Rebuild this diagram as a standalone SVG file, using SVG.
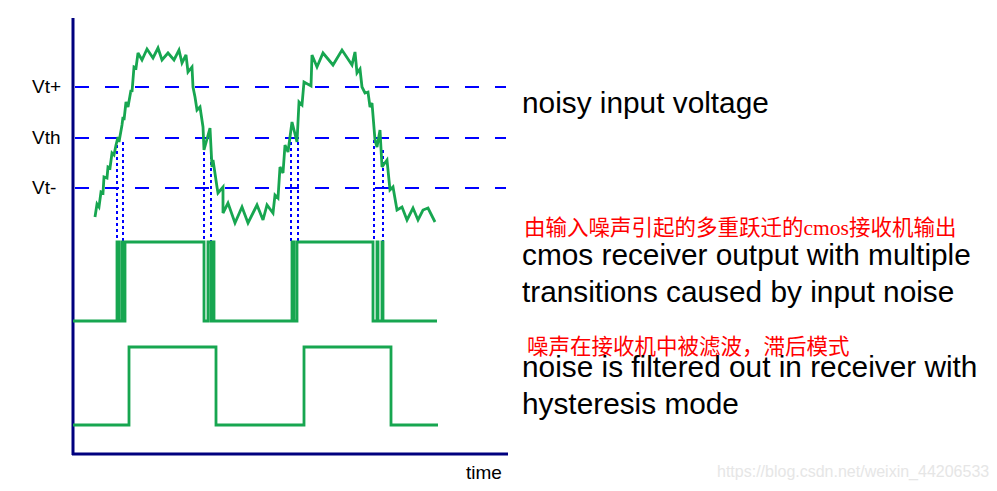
<svg xmlns="http://www.w3.org/2000/svg" width="997" height="491" viewBox="0 0 997 491">
<style>
.axis{stroke:#00007f;stroke-width:3;fill:none}
.dash{stroke:#0000ff;stroke-width:2;stroke-dasharray:14 16;fill:none}
.dot{stroke:#0000ff;stroke-width:2;stroke-dasharray:3 3;fill:none}
.wave{stroke:#17a650;stroke-width:2.8;fill:none;stroke-linejoin:miter;stroke-miterlimit:3}
.lbl{font-family:"Liberation Sans",Arial,sans-serif;font-size:19px;fill:#000}
.big{font-family:"Liberation Sans",Arial,sans-serif;font-size:29.8px;fill:#000}
.cn{font-family:"Liberation Serif","Noto Sans CJK SC",serif;font-size:21.5px;fill:#ff0000}
.wm{font-family:"Liberation Sans",Arial,sans-serif;font-size:16px;fill:#e6e6e6}
</style>
<rect width="997" height="491" fill="#ffffff"/>
<g id="axes">
<line class="axis" x1="73" y1="18" x2="73" y2="455"/>
<line class="axis" x1="72" y1="454" x2="508" y2="454"/>
<text class="lbl" x="466" y="479">time</text>
</g>
<g id="thresholds">
<line class="dash" x1="75" y1="87" x2="506" y2="87"/>
<line class="dash" x1="75" y1="138" x2="506" y2="138"/>
<line class="dash" x1="75" y1="188" x2="506" y2="188"/>
<text class="lbl" x="32" y="93">Vt+</text>
<text class="lbl" x="32" y="144">Vth</text>
<text class="lbl" x="32" y="194">Vt-</text>
</g>
<g id="connectors">
<line class="dot" x1="117" y1="145" x2="117" y2="242"/>
<line class="dot" x1="123" y1="142" x2="123" y2="242"/>
<line class="dot" x1="204" y1="140" x2="204" y2="242"/>
<line class="dot" x1="211" y1="150" x2="211" y2="242"/>
<line class="dot" x1="291" y1="142" x2="291" y2="242"/>
<line class="dot" x1="298" y1="142" x2="298" y2="242"/>
<line class="dot" x1="374" y1="140" x2="374" y2="242"/>
<line class="dot" x1="383" y1="150" x2="383" y2="242"/>
</g>
<g id="noisy-input">
<polyline class="wave" points="95,217 97,204 99,207 101,192 103,193 104,177 107,178 108,167 110,168 112,153 114,155 116,145 118,137 119,142 122,125 123,117 124,120 126,102 128,107 131,90 132,92 134,67 136,68 138,53 142,60 147,49 153,58 158,48 162,60 168,53 174,60 179,50 182,63 186,55 188,72 192,67 193,87 195,97 197,110 200,107 203,127 204,150 210,128 212,167 213,160 217,187 218,193 223,187 223,213 228,203 235,223 242,207 248,223 257,205 263,220 267,205 273,213 275,195 278,198 280,167 283,173 285,145 288,152 292,122 297,142 299,102 302,105 304,82 311,86 312,55 317,67 323,53 333,65 342,50 352,65 355,52 357,73 360,69 362,87 365,93 368,92 370,107 372,103 375,140 377,147 380,130 382,167 387,160 390,190 393,187 397,210 402,207 407,220 413,208 418,220 423,210 428,208 435,222"/>
<text class="big" x="522" y="113">noisy input voltage</text>
</g>
<g id="cmos-output">
<path class="wave" d="M73,321 H117 V242 H119 V321 H122 V242 H124 V321 H125 V242 H204 V321 H208 V242 H211 V321 H213 V242 H214 V321 H292 V242 H294 V321 H297 V242 H373 V321 H377 V242 H378 V321 H382 V242 H383 V321 H437"/>
<text class="cn" x="524" y="235">由输入噪声引起的多重跃迁的cmos接收机输出</text>
<text class="big" x="522" y="265">cmos receiver output with multiple</text>
<text class="big" x="522" y="302">transitions caused by input noise</text>
</g>
<g id="hysteresis-output">
<path class="wave" d="M73,425 H129 V347 H216 V425 H304 V347 H391 V425 H438"/>
<text class="cn" x="527" y="354">噪声在接收机中被滤波，滞后模式</text>
<text class="big" x="522" y="377">noise is filtered out in receiver with</text>
<text class="big" x="522" y="414">hysteresis mode</text>
</g>
<text class="wm" x="717" y="477">https://blog.csdn.net/weixin_44206533</text>
</svg>
